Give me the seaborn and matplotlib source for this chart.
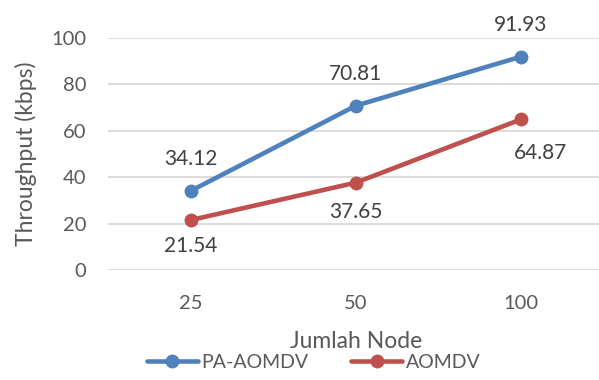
import pandas as pd
import matplotlib.pyplot as plt
import seaborn as sns

# data
nodes = ['25', '50', '100']
pa_aomdv = [34.12, 70.81, 91.93]
aomdv = [21.54, 37.65, 64.87]
series_names = ['PA-AOMDV', 'AOMDV']

df = pd.DataFrame({
    'Jumlah Node': nodes * 2,
    'Throughput': pa_aomdv + aomdv,
    'Series': [series_names[0]] * 3 + [series_names[1]] * 3,
})

sns.set_style("white")
plt.rcParams['font.family'] = ['Lato', 'DejaVu Sans']
text_col = '#595959'
colors = {'PA-AOMDV': '#4F81BD', 'AOMDV': '#C0504D'}

fig = plt.figure(figsize=(5.99, 3.8), dpi=100)
ax = fig.add_axes([0.181, 0.2895, 0.826, 0.6105])

sns.lineplot(data=df, x='Jumlah Node', y='Throughput', hue='Series',
             palette=colors, marker='o', markersize=10, markeredgewidth=0,
             linewidth=3.3, sort=False, ax=ax, legend=True)

# data labels (offsets in points)
label_offsets = {
    'PA-AOMDV': [(0, 23), (0, 23), (0, 23)],
    'AOMDV': [(0, -19), (0, -21), (14, -24)],
}
for name, vals in zip(series_names, [pa_aomdv, aomdv]):
    for i, v in enumerate(vals):
        ax.annotate(f'{v:.2f}', (i, v), xytext=label_offsets[name][i],
                    textcoords='offset points', ha='center', va='center',
                    fontsize=15, color='#404040')

ax.set_ylim(0, 100)
ax.set_xlim(-0.5, 2.5)
ax.set_yticks([0, 20, 40, 60, 80, 100])
ax.yaxis.grid(True, color='#D9D9D9', linewidth=1.3)
ax.set_axisbelow(True)
for s in ax.spines.values():
    s.set_visible(False)
ax.tick_params(axis='both', length=0, labelsize=14.5, labelcolor=text_col)
ax.tick_params(axis='y', pad=16)
ax.tick_params(axis='x', pad=18)

ax.set_xlabel('Jumlah Node', fontsize=16.5, color=text_col, labelpad=14)
ax.set_ylabel('Throughput (kbps)', fontsize=16.5, color=text_col, labelpad=10)

handles, labels = ax.get_legend_handles_labels()
ax.get_legend().remove()
fig.legend(handles, labels, loc='center', bbox_to_anchor=(0.524, 0.047),
           ncol=2, frameon=False, fontsize=14, labelcolor=text_col,
           handlelength=2.6, handletextpad=0.2, columnspacing=2.2)

fig.savefig('out.png', dpi=100)
